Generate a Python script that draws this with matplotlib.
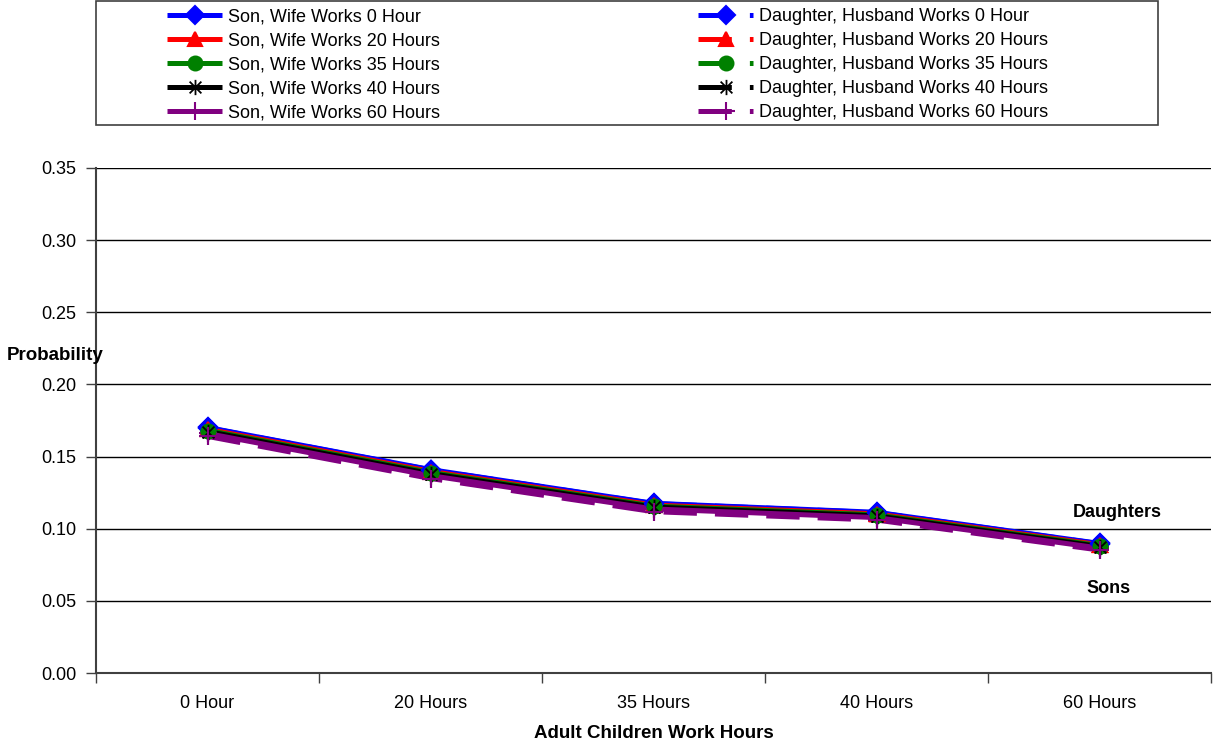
import matplotlib
matplotlib.use("Agg")
import matplotlib.pyplot as plt
from matplotlib.patches import Rectangle
from matplotlib.path import Path

plt.rcParams['font.family'] = ['Liberation Sans', 'DejaVu Sans']
plt.rcParams['lines.scale_dashes'] = False

categories = ["0 Hour", "20 Hours", "35 Hours", "40 Hours", "60 Hours"]

son_labels = ["Son, Wife Works 0 Hour", "Son, Wife Works 20 Hours", "Son, Wife Works 35 Hours",
              "Son, Wife Works 40 Hours", "Son, Wife Works 60 Hours"]
dau_labels = ["Daughter, Husband Works 0 Hour", "Daughter, Husband Works 20 Hours",
              "Daughter, Husband Works 35 Hours", "Daughter, Husband Works 40 Hours",
              "Daughter, Husband Works 60 Hours"]

son_wife_0 = [0.1702, 0.1410, 0.1176, 0.1114, 0.0898]
son_wife_20 = [0.1690, 0.1398, 0.1164, 0.1103, 0.0889]
son_wife_35 = [0.1682, 0.1390, 0.1157, 0.1096, 0.0883]
son_wife_40 = [0.1674, 0.1382, 0.1150, 0.1089, 0.0877]
son_wife_60 = [0.1660, 0.1368, 0.1137, 0.1077, 0.0866]

dau_husb_0 = [0.1700, 0.1408, 0.1174, 0.1112, 0.0896]
dau_husb_20 = [0.1688, 0.1396, 0.1162, 0.1101, 0.0887]
dau_husb_35 = [0.1680, 0.1388, 0.1155, 0.1094, 0.0881]
dau_husb_40 = [0.1672, 0.1380, 0.1148, 0.1087, 0.0875]
dau_husb_60 = [0.1640, 0.1348, 0.1118, 0.1060, 0.0852]

son_series = [son_wife_0, son_wife_20, son_wife_35, son_wife_40, son_wife_60]
dau_series = [dau_husb_0, dau_husb_20, dau_husb_35, dau_husb_40, dau_husb_60]

star = Path([(-1, -1), (1, 1), (-1, 1), (1, -1), (0, -1.3), (0, 1.3)],
            [Path.MOVETO, Path.LINETO, Path.MOVETO, Path.LINETO, Path.MOVETO, Path.LINETO])

colors = ["#0000FF", "#FF0000", "#008000", "#000000", "#800080"]
markers = ["D", "^", "o", star, "+"]
msizes = [9, 10, 10, 11, 13]
mews = [1.5, 1.5, 1.5, 1.3, 1.5]

W, H = 1214, 745
fig = plt.figure(figsize=(W / 100, H / 100), dpi=100)
ax = fig.add_axes([96 / W, 1 - 673 / H, (1211 - 96) / W, (673 - 168) / H])

x = list(range(len(categories)))
dau_handles = []
for vals, c, m, ms, mw, lab in zip(dau_series, colors, markers, msizes, mews, dau_labels):
    h, = ax.plot(x, vals, color=c, lw=3.6, linestyle=(0, (24, 13)), marker=m, markersize=ms,
                 markerfacecolor=c, markeredgecolor=c, markeredgewidth=mw,
                 label=lab, dash_capstyle='butt', zorder=2)
    dau_handles.append(h)
son_handles = []
for vals, c, m, ms, mw, lab in zip(son_series, colors, markers, msizes, mews, son_labels):
    h, = ax.plot(x, vals, color=c, lw=3.6, marker=m, markersize=ms,
                 markerfacecolor=c, markeredgecolor=c, markeredgewidth=mw,
                 label=lab, solid_capstyle='butt', zorder=3)
    son_handles.append(h)
# markers on top of all lines
for group in (son_series, dau_series):
    for vals, c, m, ms, mw in zip(group, colors, markers, msizes, mews):
        ax.plot(x, vals, linestyle='none', marker=m, markersize=ms, markerfacecolor=c,
                markeredgecolor=c, markeredgewidth=mw, zorder=4)

ax.set_xlim(-0.5, len(categories) - 0.5)
ax.set_ylim(0, 0.35)
yt = [0, 0.05, 0.10, 0.15, 0.20, 0.25, 0.30, 0.35]
ax.set_yticks(yt)
ax.set_yticklabels(["%.2f" % v for v in yt])
ax.set_xticks(x)
ax.set_xticklabels(categories)
ax.set_xticks([i - 0.5 for i in range(len(categories) + 1)], minor=True)
ax.tick_params(axis='x', which='major', length=0, pad=16, labelsize=13)
ax.tick_params(axis='x', which='minor', length=7, width=1, color='#404040', direction='out')
ax.tick_params(axis='y', which='major', length=7, width=1, color='#404040', direction='out',
               pad=7, labelsize=13)
ax.yaxis.grid(True, color='#000000', lw=1)
ax.set_axisbelow(True)
for s in ['top', 'right']:
    ax.spines[s].set_visible(False)
for s in ['left', 'bottom']:
    ax.spines[s].set_color('#404040')
    ax.spines[s].set_linewidth(1.5)

ax.text(4.08, 0.111, "Daughters", fontsize=13, fontweight='bold', ha='center', va='center')
ax.text(4.04, 0.0589, "Sons", fontsize=13, fontweight='bold', ha='center', va='center')

fig.text(654 / W, 1 - 733 / H, "Adult Children Work Hours", fontsize=13.5, fontweight='bold',
         ha='center', va='center')
fig.text(7 / W, 1 - 355 / H, "Probability", fontsize=13.5, fontweight='bold',
         ha='left', va='center')

# legend box
fig.patches.append(Rectangle((96 / W, 1 - 125 / H), (1158 - 96) / W, 124 / H,
                             transform=fig.transFigure, fill=False, edgecolor='#404040', lw=1.2))

leg_kw = dict(loc='upper left', frameon=False, fontsize=13, handlelength=3.05,
              handletextpad=0.33, labelspacing=0.39, borderpad=0, borderaxespad=0)
leg1 = fig.legend(handles=son_handles, bbox_to_anchor=(167 / W, 1 - 8 / H), **leg_kw)
leg2 = fig.legend(handles=dau_handles, bbox_to_anchor=(698 / W, 1 - 8 / H), **leg_kw)

fig.savefig("out.png", dpi=100)
